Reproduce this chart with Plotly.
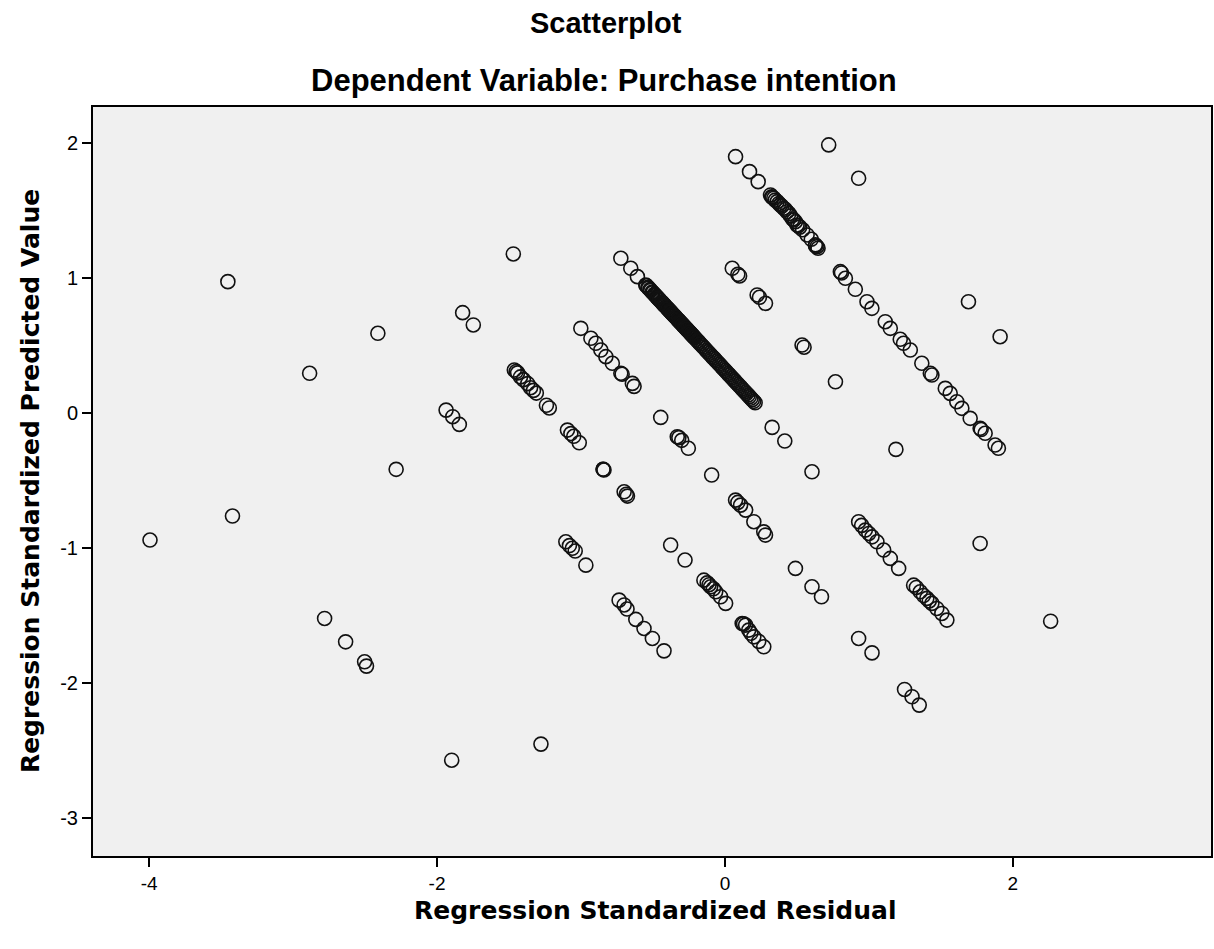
import plotly.graph_objects as go

# Regression Standardized Residual (x) / Regression Standardized Predicted Value (y)
# Band A (upper-right diagonal)
band_a_x = [0.074, 0.171, 0.231, 0.317, 0.325, 0.33, 0.340, 0.35, 0.363, 0.375, 0.386, 0.395, 0.409,
            0.42, 0.432, 0.445, 0.456, 0.47, 0.479, 0.49, 0.501, 0.51, 0.52, 0.54, 0.571, 0.60,
            0.629, 0.63, 0.64, 0.647, 0.802, 0.81, 0.837, 0.906, 0.987,
            1.021, 1.114, 1.149, 1.218, 1.241, 1.288, 1.368, 1.427, 1.438, 1.531, 1.565, 1.611,
            1.646, 1.704, 1.773, 1.78, 1.808, 1.877, 1.900]
band_a_y = [1.902, 1.791, 1.717, 1.618, 1.605, 1.60, 1.594, 1.58, 1.569, 1.555, 1.544, 1.535, 1.520,
            1.51, 1.494, 1.48, 1.463, 1.44, 1.433, 1.42, 1.396, 1.39, 1.38, 1.36, 1.322, 1.29,
            1.248, 1.24, 1.235, 1.223, 1.050, 1.04, 1.001, 0.919, 0.827,
            0.778, 0.679, 0.630, 0.549, 0.519, 0.469, 0.371, 0.297, 0.284, 0.185, 0.148, 0.086,
            0.037, -0.037, -0.111, -0.12, -0.148, -0.235, -0.259]

# Band B (main dense diagonal)
band_b_x = [-0.723, -0.654, -0.608, -0.55, -0.53, -0.52, -0.50, -0.49, -0.47, -0.46, -0.45, -0.43,
            -0.42, -0.40, -0.39, -0.37, -0.36, -0.35, -0.33, -0.32, -0.30, -0.29, -0.27, -0.26,
            -0.24, -0.23, -0.21, -0.20, -0.18, -0.16, -0.14, -0.12, -0.10, -0.08, -0.06, -0.04,
            -0.02, 0.00, 0.03, 0.05, 0.08, 0.10, 0.13, 0.15, 0.17, 0.19, 0.21]
band_b_y = [1.149, 1.075, 1.013, 0.951, 0.928, 0.917, 0.894, 0.882, 0.859, 0.848, 0.836, 0.813,
            0.802, 0.779, 0.767, 0.744, 0.733, 0.721, 0.698, 0.687, 0.664, 0.652, 0.629, 0.618,
            0.595, 0.583, 0.560, 0.549, 0.526, 0.503, 0.480, 0.457, 0.434, 0.411, 0.388, 0.365,
            0.342, 0.319, 0.285, 0.262, 0.227, 0.204, 0.170, 0.147, 0.124, 0.101, 0.078]
band_b2_x = [-0.545, -0.535, -0.515, -0.505, -0.485, -0.475, -0.465, -0.455, -0.44, -0.435, -0.425,
             -0.415, -0.405, -0.395, -0.385, -0.38, -0.375, -0.365, -0.355, -0.345, -0.34, -0.325,
             -0.315, -0.31, -0.305, -0.295, -0.285, -0.28, -0.275, -0.265, -0.255, -0.25, -0.245,
             -0.235, -0.225, -0.22, -0.215, -0.19, -0.17, -0.15, -0.13, -0.11, -0.09, -0.07, -0.05,
             -0.03, -0.01, 0.01, 0.02, 0.04, 0.06, 0.07, 0.09, 0.11, 0.12, 0.14, 0.16, 0.18, 0.20]
band_b2_y = [0.945, 0.934, 0.911, 0.899, 0.876, 0.865, 0.853, 0.842, 0.825, 0.819, 0.807,
             0.796, 0.784, 0.773, 0.761, 0.756, 0.750, 0.738, 0.727, 0.715, 0.710, 0.692,
             0.681, 0.675, 0.669, 0.658, 0.646, 0.641, 0.635, 0.624, 0.612, 0.606, 0.601,
             0.589, 0.578, 0.572, 0.566, 0.537, 0.514, 0.491, 0.468, 0.445, 0.422, 0.400, 0.377,
             0.354, 0.331, 0.308, 0.296, 0.273, 0.250, 0.239, 0.216, 0.193, 0.181, 0.158, 0.135, 0.112, 0.089]

# Band C
band_c_x = [-1.001, -0.931, -0.897, -0.862, -0.827, -0.782, -0.723, -0.714, -0.643, -0.631,
            -0.446, -0.331, -0.32, -0.30, -0.254, -0.092, 0.074, 0.09, 0.109, 0.144, 0.201, 0.270,
            0.282, 0.490, 0.605, 0.671, 0.929, 1.022, 1.248, 1.30, 1.350]
band_c_y = [0.630, 0.556, 0.519, 0.469, 0.420, 0.371, 0.297, 0.290, 0.222, 0.200,
            -0.030, -0.173, -0.18, -0.20, -0.259, -0.457, -0.643, -0.66, -0.680, -0.717, -0.803, -0.878,
            -0.902, -1.149, -1.285, -1.359, -1.668, -1.775, -2.046, -2.10, -2.162]

# Band D
band_d_x = [0.051, 0.09, 0.102, 0.224, 0.24, 0.282, 0.536, 0.55, 0.768, 1.188, 1.773, 2.263]
band_d_y = [1.075, 1.03, 1.018, 0.877, 0.86, 0.815, 0.506, 0.49, 0.234, -0.267, -0.964, -1.540]

# Band E
band_e_x = [0.721, 0.929, 1.692, 1.912]
band_e_y = [1.989, 1.742, 0.827, 0.568]

# Band F
band_f_x = [0.328, 0.416, 0.605, 0.929, 0.95, 0.976, 1.0, 1.022, 1.056, 1.103, 1.149, 1.207, 1.311,
            1.33, 1.357, 1.38, 1.403, 1.42, 1.438, 1.472, 1.507, 1.542]
band_f_y = [-0.104, -0.205, -0.433, -0.803, -0.83, -0.865, -0.89, -0.915, -0.952, -1.013, -1.075,
            -1.149, -1.273, -1.29, -1.322, -1.35, -1.371, -1.39, -1.408, -1.446, -1.483, -1.532]

# Band G
band_g_x = [-1.463, -1.45, -1.44, -1.42, -1.40, -1.37, -1.35, -1.33, -1.31, -1.24, -1.22, -1.094,
            -1.07, -1.05, -1.012, -0.846, -0.846, -0.84, -0.700, -0.685, -0.677, -0.377, -0.277,
            -0.146, -0.123, -0.11, -0.099, -0.08, -0.064, -0.030, 0.005, 0.120, 0.13, 0.144, 0.166,
            0.18, 0.201, 0.235, 0.270]
band_g_y = [0.321, 0.31, 0.30, 0.27, 0.25, 0.22, 0.19, 0.17, 0.15, 0.06, 0.04, -0.124,
            -0.15, -0.17, -0.218, -0.415, -0.415, -0.42, -0.581, -0.600, -0.613, -0.976, -1.087,
            -1.236, -1.256, -1.27, -1.285, -1.30, -1.322, -1.359, -1.408, -1.557, -1.56, -1.569,
            -1.606, -1.63, -1.656, -1.69, -1.730]

# Band H
band_h_x = [-1.937, -1.891, -1.845, -1.105, -1.08, -1.06, -1.04, -0.966, -0.735, -0.70, -0.68,
            -0.619, -0.562, -0.504, -0.423]
band_h_y = [0.024, -0.025, -0.082, -0.952, -0.98, -1.0, -1.02, -1.125, -1.384, -1.42, -1.45,
            -1.527, -1.594, -1.668, -1.760]

# Band I
band_i_x = [-2.781, -2.635, -2.503, -2.49, -1.898]
band_i_y = [-1.520, -1.693, -1.841, -1.873, -2.570]

# Isolated points
other_x = [-3.994, -3.421, -2.284, -1.278, -3.453, -2.411, -2.885, -1.822, -1.748, -1.470]
other_y = [-0.939, -0.761, -0.415, -2.451, 0.976, 0.593, 0.297, 0.746, 0.655, 1.181]

x_ticks = [-4, -2, 0, 2]
y_ticks = [-3, -2, -1, 0, 1, 2]

all_x = (band_a_x + band_b_x + band_b2_x + band_c_x + band_d_x + band_e_x + band_f_x
         + band_g_x + band_h_x + band_i_x + other_x)
all_y = (band_a_y + band_b_y + band_b2_y + band_c_y + band_d_y + band_e_y + band_f_y
         + band_g_y + band_h_y + band_i_y + other_y)

fig = go.Figure()
fig.add_trace(go.Scatter(
    x=all_x, y=all_y, mode="markers",
    marker=dict(symbol="circle-open", size=14, color="#111111", line=dict(width=1.6)),
    showlegend=False, hoverinfo="x+y",
))

W, H = 1214, 949
L, R, T, B = 93, 1, 107, 93
fig.update_layout(
    width=W, height=H,
    margin=dict(l=L, r=R, t=T, b=B),
    paper_bgcolor="white", plot_bgcolor="#F0F0F0",
    font=dict(family="Liberation Sans, Arial, sans-serif", color="black"),
    xaxis=dict(range=[-4.39, 3.377], tickvals=x_ticks, ticktext=[str(v) for v in x_ticks],
               showgrid=False, zeroline=False, showline=True, linecolor="black", linewidth=2,
               mirror=True, ticks="outside", ticklen=9, tickwidth=2, tickcolor="black",
               tickfont=dict(size=19, family="Liberation Sans, Arial, sans-serif")),
    yaxis=dict(range=[-3.28, 2.27], tickvals=y_ticks, ticktext=[str(v) for v in y_ticks],
               showgrid=False, zeroline=False, showline=True, linecolor="black", linewidth=2,
               mirror=True, ticks="outside", ticklen=9, tickwidth=2, tickcolor="black",
               tickfont=dict(size=20, family="Liberation Sans, Arial, sans-serif")),
)

ph = H - T - B
pw = W - L - R
def py(px_from_top):
    return (H - B - px_from_top) / ph
def pxp(px_from_left):
    return (px_from_left - L) / pw

fig.add_annotation(text="<b>Scatterplot</b>", xref="paper", yref="paper",
                   x=pxp(607), y=py(23), xanchor="center", yanchor="middle", showarrow=False,
                   font=dict(size=29, family="Liberation Sans, Arial, sans-serif"))
fig.add_annotation(text="<b>Dependent Variable: Purchase intention</b>", xref="paper", yref="paper",
                   x=pxp(605), y=py(80), xanchor="center", yanchor="middle", showarrow=False,
                   font=dict(size=31, family="Liberation Sans, Arial, sans-serif"))
fig.add_annotation(text="<b>Regression Standardized Residual</b>", xref="paper", yref="paper",
                   x=pxp(656), y=py(910), xanchor="center", yanchor="middle", showarrow=False,
                   font=dict(size=25, family="DejaVu Sans, sans-serif"))
fig.add_annotation(text="<b>Regression Standardized Predicted Value</b>", xref="paper", yref="paper",
                   x=pxp(30), y=py(481), xanchor="center", yanchor="middle", showarrow=False,
                   textangle=-90,
                   font=dict(size=25, family="DejaVu Sans, sans-serif"))

fig.write_html("out.html")
